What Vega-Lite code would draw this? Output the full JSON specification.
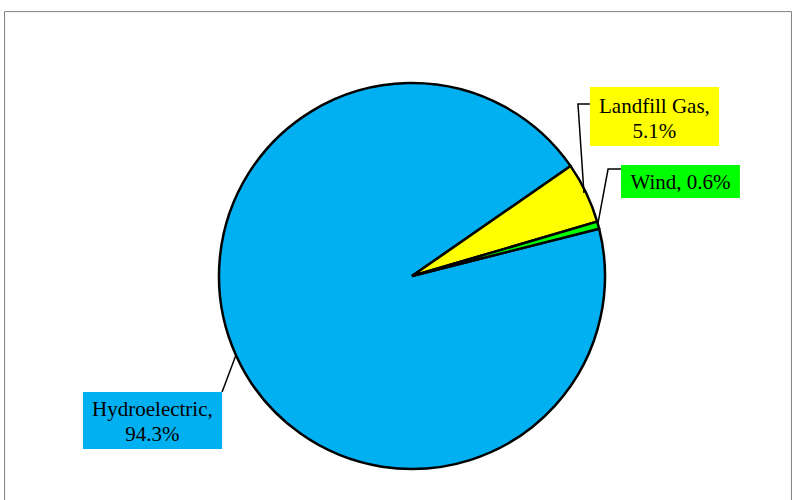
{
  "$schema": "https://vega.github.io/schema/vega-lite/v6.json",
  "width": 793,
  "height": 500,
  "autosize": "none",
  "padding": 0,
  "background": "white",
  "config": {
    "view": {"stroke": null},
    "axis": {"disable": true},
    "font": "Liberation Serif"
  },
  "datasets": {
    "energy": [
      {"source": "Hydroelectric", "pct": 94.3, "idx": 1},
      {"source": "Landfill Gas", "pct": 5.1, "idx": 2},
      {"source": "Wind", "pct": 0.6, "idx": 3}
    ],
    "callouts": [
      {"source": "Landfill Gas", "x1": 0.922, "x2": 1.591, "y1": 0.674, "y2": 0.979, "tx": 1.256, "ty": 0.876, "wrap": true},
      {"source": "Wind", "x1": 1.083, "x2": 1.699, "y1": 0.404, "y2": 0.575, "tx": 1.391, "ty": 0.482, "wrap": false},
      {"source": "Hydroelectric", "x1": -1.705, "x2": -0.984, "y1": -0.896, "y2": -0.601, "tx": -1.345, "ty": -0.694, "wrap": true}
    ],
    "leaders": [
      {"source": "Landfill Gas", "seq": 1, "x": 0.922, "y": 0.891},
      {"source": "Landfill Gas", "seq": 2, "x": 0.860, "y": 0.891},
      {"source": "Landfill Gas", "seq": 3, "x": 0.891, "y": 0.430},
      {"source": "Wind", "seq": 1, "x": 1.083, "y": 0.554},
      {"source": "Wind", "seq": 2, "x": 1.016, "y": 0.554},
      {"source": "Wind", "seq": 3, "x": 0.964, "y": 0.275},
      {"source": "Hydroelectric", "seq": 1, "x": -0.984, "y": -0.601},
      {"source": "Hydroelectric", "seq": 2, "x": -0.912, "y": -0.409}
    ],
    "frame": [
      {"x1": -2.111, "x2": 1.966, "y1": -1.2, "y2": 1.370}
    ]
  },
  "layer": [
    {
      "data": {"name": "frame"},
      "mark": {"type": "rect", "fill": null, "stroke": "#7f7f7f", "strokeWidth": 1},
      "encoding": {
        "x": {"field": "x1", "type": "quantitative", "scale": {"domain": [-2.1347, 1.9741], "nice": false, "zero": false}},
        "x2": {"field": "x2"},
        "y": {"field": "y1", "type": "quantitative", "scale": {"domain": [-1.1606, 1.4301], "nice": false, "zero": false}},
        "y2": {"field": "y2"}
      }
    },
    {
      "data": {"name": "energy"},
      "mark": {"type": "arc", "outerRadius": 193, "stroke": "black", "strokeWidth": 2.5, "strokeJoin": "miter"},
      "encoding": {
        "theta": {"field": "pct", "type": "quantitative", "stack": true, "scale": {"range": [1.323, 7.6062]}},
        "order": {"field": "idx", "type": "quantitative"},
        "color": {
          "field": "source",
          "type": "nominal",
          "legend": null,
          "scale": {"domain": ["Hydroelectric", "Landfill Gas", "Wind"], "range": ["#00B0F0", "#FFFF00", "#00FF00"]}
        },
        "x": {"datum": 0, "type": "quantitative", "scale": {"domain": [-2.1347, 1.9741], "nice": false, "zero": false}},
        "y": {"datum": 0, "type": "quantitative", "scale": {"domain": [-1.1606, 1.4301], "nice": false, "zero": false}}
      }
    },
    {
      "data": {"name": "leaders"},
      "mark": {"type": "line", "color": "black", "strokeWidth": 1.5},
      "encoding": {
        "x": {"field": "x", "type": "quantitative", "scale": {"domain": [-2.1347, 1.9741], "nice": false, "zero": false}},
        "y": {"field": "y", "type": "quantitative", "scale": {"domain": [-1.1606, 1.4301], "nice": false, "zero": false}},
        "detail": {"field": "source"},
        "order": {"field": "seq", "type": "quantitative"}
      }
    },
    {
      "data": {"name": "callouts"},
      "mark": {"type": "rect"},
      "encoding": {
        "x": {"field": "x1", "type": "quantitative", "scale": {"domain": [-2.1347, 1.9741], "nice": false, "zero": false}},
        "x2": {"field": "x2"},
        "y": {"field": "y1", "type": "quantitative", "scale": {"domain": [-1.1606, 1.4301], "nice": false, "zero": false}},
        "y2": {"field": "y2"},
        "color": {
          "field": "source",
          "type": "nominal",
          "legend": null,
          "scale": {"domain": ["Hydroelectric", "Landfill Gas", "Wind"], "range": ["#00B0F0", "#FFFF00", "#00FF00"]}
        }
      }
    },
    {
      "data": {"name": "callouts"},
      "transform": [
        {"lookup": "source", "from": {"data": {"name": "energy"}, "key": "source", "fields": ["pct"]}},
        {"calculate": "datum.source + ',' + (datum.wrap ? '\\n' : ' ') + format(datum.pct, '.1f') + '%'", "as": "label"}
      ],
      "mark": {"type": "text", "font": "Liberation Serif", "fontSize": 21, "lineHeight": 25, "color": "black", "align": "center", "baseline": "middle", "lineBreak": "\n"},
      "encoding": {
        "x": {"field": "tx", "type": "quantitative", "scale": {"domain": [-2.1347, 1.9741], "nice": false, "zero": false}},
        "y": {"field": "ty", "type": "quantitative", "scale": {"domain": [-1.1606, 1.4301], "nice": false, "zero": false}},
        "text": {"field": "label", "type": "nominal"}
      }
    }
  ]
}
